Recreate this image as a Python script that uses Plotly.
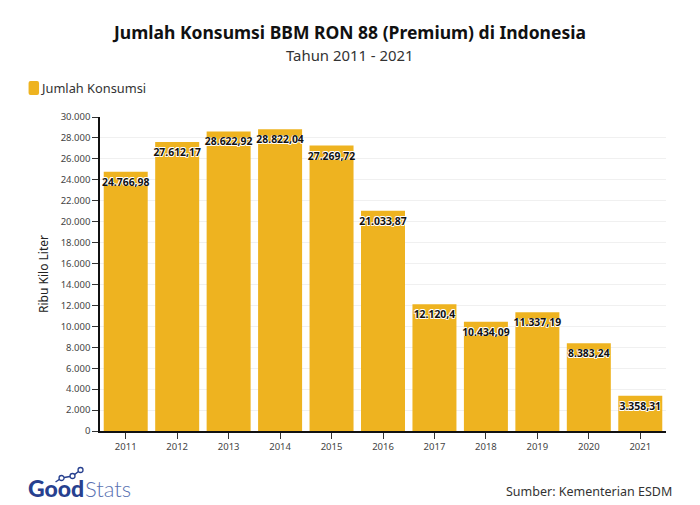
import plotly.graph_objects as go

years = ["2011","2012","2013","2014","2015","2016","2017","2018","2019","2020","2021"]
konsumsi = [24766.98,27612.17,28622.92,28822.04,27269.72,21033.87,12120.4,10434.09,11337.19,8383.24,3358.31]
y_ticks = list(range(0,30001,2000))
FONT = "Noto Sans"
# the page puts the figure 8px in from the window's corner
OFF = 8
W, H = 692, 497
L, T, PW, PH = 91.5, 109, 566.5, 314
def px(x): return (x - OFF - L) / PW
def py(y): return 1 - (y - OFF - T) / PH

def note(text, x, y, anchor, font):
    return dict(text=text, x=px(x), y=py(y), xref="paper", yref="paper", showarrow=False,
                xanchor=anchor, yanchor="middle", font=font)

def swatch(x0, x1, y0, y1, r):
    X0, X1, Y0, Y1 = px(x0), px(x1), py(y0), py(y1)
    rx, ry = r / PW, r / PH
    return (f"M {X0+rx} {Y0} L {X1-rx} {Y0} Q {X1} {Y0} {X1} {Y0-ry} L {X1} {Y1+ry} "
            f"Q {X1} {Y1} {X1-rx} {Y1} L {X0+rx} {Y1} Q {X0} {Y1} {X0} {Y1+ry} "
            f"L {X0} {Y0-ry} Q {X0} {Y0} {X0+rx} {Y0} Z")

BLUE = "#27408F"
fig = go.Figure(go.Bar(
    x=years, y=konsumsi, name="Jumlah Konsumsi", width=0.855,
    marker=dict(color="#EEB320", line=dict(width=0)),
    texttemplate="%{y:,.2~f}", textposition="inside", insidetextanchor="end",
    constraintext="none", cliponaxis=False, textangle=0,
    insidetextfont=dict(family=FONT, size=10.4, color="#111111", weight=700,
                    shadow="0.7px 0.7px 0.5px #fff, -0.7px -0.7px 0.5px #fff, 0.7px -0.7px 0.5px #fff, -0.7px 0.7px 0.5px #fff"),
    showlegend=False, hoverinfo="x+y",
))
fig.update_layout(
    width=W, height=H, autosize=False, separators=",.",
    paper_bgcolor="white", plot_bgcolor="white",
    font=dict(family=FONT, color="#333333"),
    margin=dict(l=L, r=W-L-PW, t=T, b=H-T-PH, autoexpand=False),
    title=dict(text="<b>Jumlah Konsumsi BBM RON 88 (Premium) di Indonesia</b>",
               xref="container", yref="container",
               x=(350-OFF)/W, xanchor="center", y=1-(33-OFF)/H, yanchor="middle",
               font=dict(size=17.5, color="#111111", family=FONT)),
    xaxis=dict(type="category", showline=True, linecolor="#111111", linewidth=1.5,
               ticks="outside", ticklen=6, tickcolor="#333333", tickwidth=1,
               tickfont=dict(size=9.5, color="#444444"), showgrid=False),
    yaxis=dict(range=[0,30000], tickvals=y_ticks, tickformat=",d", showline=True,
               linecolor="#111111", linewidth=1.5, ticks="outside", ticklen=6,
               tickcolor="#333333", tickwidth=1, tickfont=dict(size=9.5, color="#444444"),
               gridcolor="#F0F0F0", gridwidth=1, zeroline=False,
               title=dict(text="Ribu Kilo Liter", font=dict(size=12, color="#222222"), standoff=9)),
    annotations=[
        note("Tahun 2011 - 2021", 350, 55, "center", dict(size=14.9, color="#333333")),
        note("Jumlah Konsumsi", 38.5, 88, "left", dict(size=12.8, color="#333333")),
        note("Sumber: Kementerian ESDM", 674, 491, "right", dict(size=12.5, color="#333333")),
        note("Good", 25.5, 488, "left", dict(size=23, color=BLUE, family="Lato", weight=900)),
        note("Stats", 82, 488, "left", dict(size=22, color="#5A72B2", family="Lato", weight=300)),
    ],
    shapes=[
        dict(type="path", xref="paper", yref="paper", path=swatch(28, 38.5, 81, 95, 2),
             fillcolor="#EEB320", line=dict(width=0)),
        dict(type="path", xref="paper", yref="paper",
             path=f"M {px(55)} {py(482)} L {px(61)} {py(478)} L {px(72)} {py(476)} L {px(80)} {py(470)}",
             line=dict(color=BLUE, width=1.5)),
    ] + [
        dict(type="circle", xref="paper", yref="paper",
             x0=px(cx-2.5), x1=px(cx+2.5), y0=py(cy+2.5), y1=py(cy-2.5),
             fillcolor="white", line=dict(color=BLUE, width=1.3))
        for cx, cy in [(61,478),(72,476),(80,470)]
    ],
)
fig.write_html("out.html")
